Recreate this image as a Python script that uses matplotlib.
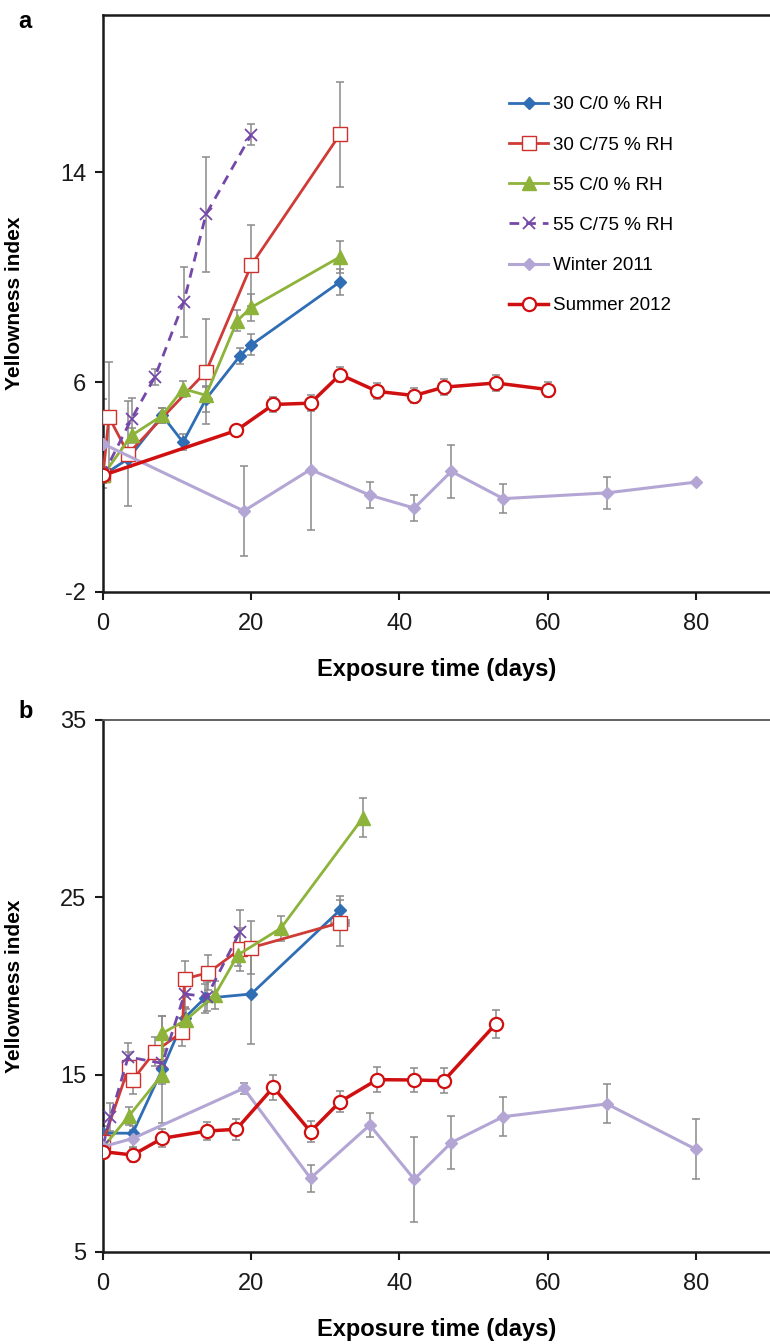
import matplotlib
matplotlib.use("Agg")
import matplotlib.pyplot as plt
from matplotlib.lines import Line2D

# ---------------- data: panel a ----------------
a_30c0_x = [0, 3.4, 8, 10.8, 13.9, 18.5, 20, 32]
a_30c0_y = [2.45, 3.08, 4.73, 3.71, 5.36, 7.01, 7.42, 9.83]
a_30c0_e = [0.3, 0.3, 0.3, 0.3, 0.5, 0.3, 0.4, 0.5]

a_30c75_x = [0, 0.8, 3.4, 13.9, 20, 32]
a_30c75_y = [2.45, 4.67, 3.27, 6.40, 10.46, 15.46]
a_30c75_e = [0.3, 2.1, 2.0, 2.0, 1.55, 2.0]

a_55c0_x = [0, 3.85, 8, 10.8, 13.9, 18.1, 20, 32]
a_55c0_y = [2.45, 3.97, 4.73, 5.75, 5.50, 8.34, 8.85, 10.78]
a_55c0_e = [0.3, 0.3, 0.3, 0.3, 0.3, 0.4, 0.5, 0.6]

a_55c75_x = [0, 3.85, 7, 10.9, 13.9, 20]
a_55c75_y = [2.45, 4.6, 6.2, 9.06, 12.4, 15.44]
a_55c75_e = [0.3, 0.8, 0.3, 1.35, 2.2, 0.4]

a_win_x = [0, 19, 28, 36, 42, 47, 54, 68, 80]
a_win_y = [3.65, 1.09, 2.67, 1.69, 1.20, 2.60, 1.56, 1.78, 2.19]
a_win_e = [1.7, 1.7, 2.3, 0.5, 0.5, 1.0, 0.55, 0.6, 0.0]

a_sum_x = [0, 18, 23, 28, 32, 37, 42, 46, 53, 60]
a_sum_y = [2.45, 4.16, 5.15, 5.20, 6.29, 5.65, 5.49, 5.81, 5.97, 5.72]
a_sum_e = [0.3, 0.2, 0.3, 0.3, 0.3, 0.3, 0.3, 0.3, 0.3, 0.3]

# ---------------- data: panel b ----------------
b_30c0_x = [0, 4, 8, 11, 13.7, 20, 32]
b_30c0_y = [11.7, 11.7, 15.3, 18.2, 19.3, 19.55, 24.29]
b_30c0_e = [0.4, 0.4, 3.0, 0.6, 0.8, 2.8, 0.8]

b_30c75_x = [0, 3.5, 4, 7, 10.7, 11, 14.2, 18.5, 20, 32]
b_30c75_y = [11.2, 15.46, 14.7, 16.3, 17.4, 20.4, 20.75, 22.07, 22.16, 23.57]
b_30c75_e = [0.5, 0.8, 0.8, 0.8, 0.8, 1.0, 1.0, 1.2, 1.5, 1.3]
b_30c75_xe = [0, 0, 0, 0, 0, 0, 0, 0, 0, 1.2]

b_55c0_x = [0, 3.5, 8, 8, 11.2, 15.1, 18.2, 24, 35.1]
b_55c0_y = [10.9, 12.67, 15.0, 17.33, 18.09, 19.5, 21.75, 23.26, 29.5]
b_55c0_e = [0.3, 0.5, 0.5, 1.0, 0.6, 0.8, 0.6, 0.7, 1.1]

b_55c75_x = [0, 1, 3.4, 8, 11, 14, 18.5]
b_55c75_y = [11.0, 12.6, 16.0, 15.64, 19.55, 19.4, 23.07]
b_55c75_e = [0.3, 0.8, 0.8, 0.8, 0.8, 0.8, 1.2]

b_win_x = [0, 4, 19, 28, 36, 42, 47, 54, 68, 80]
b_win_y = [10.94, 11.4, 14.23, 9.16, 12.16, 9.10, 11.17, 12.63, 13.35, 10.79]
b_win_e = [0.3, 0.5, 0.3, 0.75, 0.7, 2.4, 1.5, 1.1, 1.1, 1.7]

b_sum_x = [0, 4, 8, 14, 18, 23, 28, 32, 37, 42, 46, 53]
b_sum_y = [10.66, 10.47, 11.41, 11.82, 11.92, 14.29, 11.79, 13.48, 14.72, 14.70, 14.66, 17.86]
b_sum_e = [0.3, 0.4, 0.5, 0.5, 0.6, 0.7, 0.6, 0.6, 0.7, 0.7, 0.7, 0.8]

labels = ["30 C/0 % RH", "30 C/75 % RH", "55 C/0 % RH", "55 C/75 % RH",
          "Winter 2011", "Summer 2012"]
xticks = [0, 20, 40, 60, 80]
a_yticks = [-2, 6, 14]
b_yticks = [5, 15, 25, 35]

# ---------------- styles ----------------
styles = [
    dict(color="#2f6db5", marker="D", ms=6, mfc="#2f6db5", mec="#2f6db5", ls="-", lw=2),
    dict(color="#cf3b36", marker="s", ms=9.5, mfc="white", mec="#d0302c", ls="-", lw=2),
    dict(color="#8db33a", marker="^", ms=9.5, mfc="#8db33a", mec="#8db33a", ls="-", lw=2),
    dict(color="#7448a8", marker="x", ms=9, mfc="#7448a8", mec="#7448a8", ls=(0, (3.5, 2.5)), lw=2, mew=1.3),
    dict(color="#b4a6d4", marker="D", ms=6, mfc="#b4a6d4", mec="#b4a6d4", ls="-", lw=2.2),
    dict(color="#d01010", marker="o", ms=9.5, mfc="white", mec="#d01010", ls="-", lw=2.5, mew=1.6),
]

FONT = ["Liberation Sans Narrow", "Liberation Sans", "DejaVu Sans"]
plt.rcParams["font.family"] = FONT
plt.rcParams["axes.unicode_minus"] = False

fig = plt.figure(figsize=(7.70, 13.44), dpi=100)
W, H = 770.0, 1344.0
axA = fig.add_axes([103 / W, 1 - 592 / H, (770 - 103) / W, (592 - 15) / H])
axB = fig.add_axes([103 / W, 1 - 1252 / H, (770 - 103) / W, (1252 - 720) / H])

ERRC = "#8a8a8a"


def draw(ax, series):
    for (x, y, e, xe), st in zip(series, styles):
        ax.errorbar(x, y, yerr=e, xerr=xe, fmt="none", ecolor=ERRC,
                    elinewidth=1.1, capsize=3, capthick=1.1, zorder=2)
        ax.plot(x, y, zorder=3, **st)


draw(axA, [
    (a_30c0_x, a_30c0_y, a_30c0_e, None),
    (a_30c75_x, a_30c75_y, a_30c75_e, None),
    (a_55c0_x, a_55c0_y, a_55c0_e, None),
    (a_55c75_x, a_55c75_y, a_55c75_e, None),
    (a_win_x, a_win_y, a_win_e, None),
    (a_sum_x, a_sum_y, a_sum_e, None),
])
draw(axB, [
    (b_30c0_x, b_30c0_y, b_30c0_e, None),
    (b_30c75_x, b_30c75_y, b_30c75_e, b_30c75_xe),
    (b_55c0_x, b_55c0_y, b_55c0_e, None),
    (b_55c75_x, b_55c75_y, b_55c75_e, None),
    (b_win_x, b_win_y, b_win_e, None),
    (b_sum_x, b_sum_y, b_sum_e, None),
])

for ax, yl, yt in [(axA, (-2, 20), a_yticks), (axB, (5, 35), b_yticks)]:
    ax.set_xlim(0, 90)
    ax.set_ylim(*yl)
    ax.set_xticks(xticks)
    ax.set_yticks(yt)
    ax.spines["right"].set_visible(False)
    for s in ["left", "bottom", "top"]:
        ax.spines[s].set_linewidth(1.8)
        ax.spines[s].set_color("#1a1a1a")
    ax.tick_params(axis="both", direction="out", length=6, width=1.5,
                   labelsize=17, colors="#1a1a1a", pad=6)
    ax.tick_params(axis="x", pad=9)
    ax.set_xlabel("Exposure time (days)", fontsize=17, fontweight="bold", labelpad=17)
    ax.set_ylabel("Yellowness index", fontsize=15, fontweight="bold")
    ax.yaxis.set_label_coords(-0.118, 0.5)

axB.spines["top"].set_linewidth(1.3)
axB.spines["top"].set_color("#555555")

handles = [Line2D([0], [0], **st) for st in styles]
axA.legend(handles, labels, loc="upper left", bbox_to_anchor=(0.598, 0.872),
           frameon=False, fontsize=13.5, handlelength=2.08, handletextpad=0.27,
           labelspacing=1.23, borderaxespad=0)

fig.text(18 / W, 1 - 22 / H, "a", fontsize=17, fontweight="bold", ha="left", va="center")
fig.text(18 / W, 1 - 712 / H, "b", fontsize=17, fontweight="bold", ha="left", va="center")

fig.savefig("out.png", dpi=100)
